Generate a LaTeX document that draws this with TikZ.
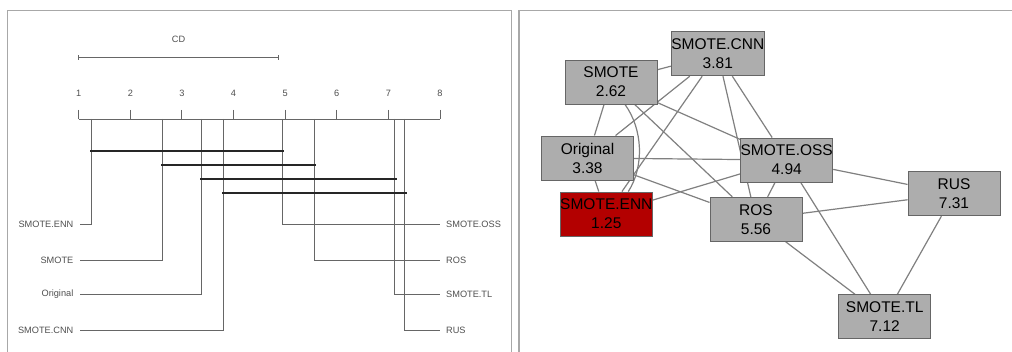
\documentclass[tikz,border=0pt]{standalone}
\usepackage{fontspec}
\setmainfont{Liberation Sans}
\usetikzlibrary{backgrounds}
\definecolor{panel}{HTML}{A8A8A8}
\definecolor{axisgray}{HTML}{666666}
\definecolor{labgray}{HTML}{505050}
\definecolor{nodefill}{HTML}{ADADAD}
\definecolor{nodeline}{HTML}{666666}
\definecolor{ennred}{HTML}{B30000}
\definecolor{edgegray}{HTML}{808080}
\begin{document}
\begin{tikzpicture}[x=1pt,y=-1pt,
 panelline/.style={draw=panel,line width=1.4pt},
 axisline/.style={draw=axisgray,line width=0.9pt},
 cliqueline/.style={draw=black!85,line width=2pt},
 smalllab/.style={font=\fontsize{9.2}{10}\selectfont,text=labgray,inner sep=0pt},
 rankbox/.style={draw=nodeline,fill=nodefill,line width=0.9pt,minimum width=92pt,minimum height=44pt,inner sep=0pt,align=center,font=\fontsize{15.5}{19}\selectfont},
 edgeline/.style={draw=edgegray,line width=1.2pt}]
\useasboundingbox (0,0) rectangle (1012,352);
\clip (0,0) rectangle (1012,352);
\begin{scope}[on background layer]
\fill[white] (0,0) rectangle (1012,352);
\end{scope}
% panels
\draw[panelline] (7.5,400) -- (7.5,10.5) -- (511.5,10.5) -- (511.5,400);
\draw[panelline] (519,400) -- (519,10.5) -- (1100,10.5);

% ---- left: critical difference diagram ----
\node[smalllab] (cd) at (178.5,39.5) {CD};
\coordinate (cdL) at (78.7,57.3);
\coordinate (cdR) at (278.3,57.3);
\draw[axisline] (cdL) -- (cdR);
\draw[axisline] ([yshift=-2.5pt]cdL) -- ([yshift=2.5pt]cdL);
\draw[axisline] ([yshift=-2.5pt]cdR) -- ([yshift=2.5pt]cdR);
\foreach \i in {1,...,8} {
  \node[smalllab] (t\i) at ({78.7+(\i-1)*51.61},93) {\i};
  \draw[axisline] ({78.7+(\i-1)*51.61},110) -- ({78.7+(\i-1)*51.61},119);
}
\draw[axisline] (78.7,119) -- (440,119);

% labels
\node[smalllab,anchor=east] (lENN) at (73.5,224.3) {SMOTE.ENN};
\node[smalllab,anchor=east] (lSMOTE) at (73.5,260) {SMOTE};
\node[smalllab,anchor=east] (lORIG) at (73.5,294.3) {Original};
\node[smalllab,anchor=east] (lCNN) at (73.5,330) {SMOTE.CNN};
\node[smalllab,anchor=west] (lOSS) at (446,224.3) {SMOTE.OSS};
\node[smalllab,anchor=west] (lROS) at (446,260) {ROS};
\node[smalllab,anchor=west] (lTL) at (446,294.3) {SMOTE.TL};
\node[smalllab,anchor=west] (lRUS) at (446,330) {RUS};
% rank points on the axis
\coordinate (rENN) at (91.6,119);
\coordinate (rSMOTE) at (162.3,119);
\coordinate (rORIG) at (201.5,119);
\coordinate (rCNN) at (223.7,119);
\coordinate (rOSS) at (282.0,119);
\coordinate (rROS) at (314.0,119);
\coordinate (rTL) at (394.6,119);
\coordinate (rRUS) at (404.4,119);
\draw[axisline] (rENN) |- ([xshift=6pt]lENN.east);
\draw[axisline] (rSMOTE) |- ([xshift=6pt]lSMOTE.east);
\draw[axisline] (rORIG) |- ([xshift=6pt]lORIG.east);
\draw[axisline] (rCNN) |- ([xshift=6pt]lCNN.east);
\draw[axisline] (rOSS) |- ([xshift=-6pt]lOSS.west);
\draw[axisline] (rROS) |- ([xshift=-6pt]lROS.west);
\draw[axisline] (rTL) |- ([xshift=-6pt]lTL.west);
\draw[axisline] (rRUS) |- ([xshift=-6pt]lRUS.west);
% cliques
\draw[cliqueline] (90,150.7) -- (284,150.7);
\draw[cliqueline] (161,164.7) -- (316,164.7);
\draw[cliqueline] (200,179) -- (397,179);
\draw[cliqueline] (222,192.7) -- (407,192.7);

% ---- right: graph ----
\node[rankbox] (cnn) at (717.8,53.8) {SMOTE.CNN\\3.81};
\node[rankbox] (smote) at (611,82) {SMOTE\\2.62};
\node[rankbox] (orig) at (587.5,158) {Original\\3.38};
\node[rankbox,fill=ennred] (enn) at (606.3,214) {SMOTE.ENN\\1.25};
\node[rankbox] (oss) at (786.7,160) {SMOTE.OSS\\4.94};
\node[rankbox] (ros) at (756,219.3) {ROS\\5.56};
\node[rankbox] (rus) at (954,193.8) {RUS\\7.31};
\node[rankbox] (tl) at (884.7,316.8) {SMOTE.TL\\7.12};
\begin{scope}[on background layer]
\draw[edgeline] (smote) -- (cnn);
\draw[edgeline] (cnn) -- (orig);
\draw[edgeline] (cnn) -- (enn);
\draw[edgeline] (cnn) -- (ros);
\draw[edgeline] (cnn) -- (oss);
\draw[edgeline] (smote) -- (orig);
\draw[edgeline] (smote) -- (ros);
\draw[edgeline] (smote) -- (oss);
\draw[edgeline] (orig) -- (oss);
\draw[edgeline] (orig) -- (ros);
\draw[edgeline] (orig) -- (enn);
\draw[edgeline] (enn) -- (oss);
\draw[edgeline] (oss) -- (ros);
\draw[edgeline] (oss) -- (rus);
\draw[edgeline] (oss) -- (tl);
\draw[edgeline] (ros) -- (rus);
\draw[edgeline] (ros) -- (tl);
\draw[edgeline] (rus) -- (tl);
\draw[edgeline] ([xshift=14pt]smote.south) .. controls +(18,25) and +(16,-25) .. ([xshift=22pt]enn.north);
\end{scope}
\end{tikzpicture}
\end{document}
